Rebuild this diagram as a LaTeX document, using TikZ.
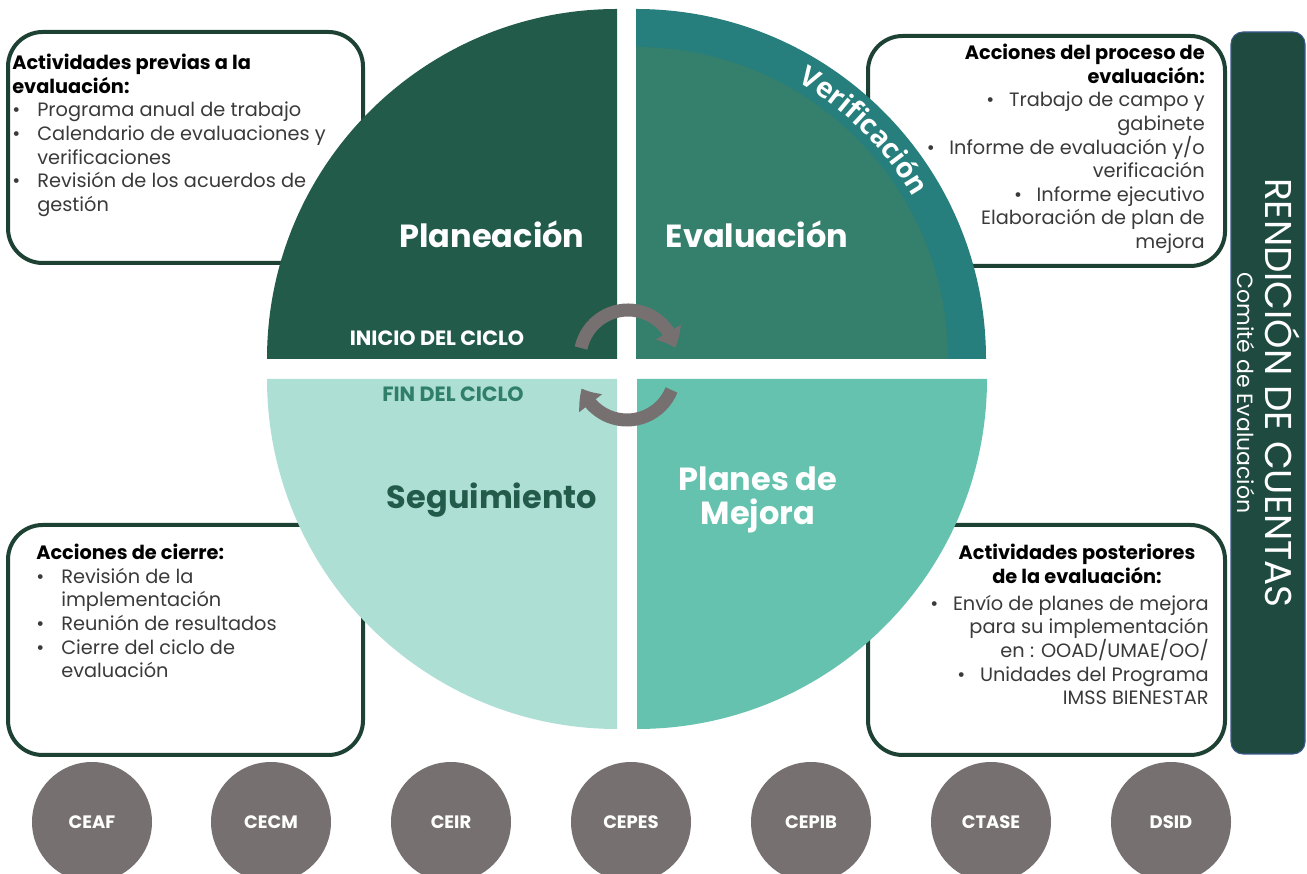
\documentclass[tikz,border=0pt]{standalone}
\usepackage{fontspec}
\setmainfont{Poppins}
\newfontfamily\osans{Open Sans}
\usetikzlibrary{arrows.meta,decorations.text,bending}
\definecolor{qTL}{HTML}{235B4B}
\definecolor{qTRband}{HTML}{267E7D}
\definecolor{qTR}{HTML}{34806C}
\definecolor{qBL}{HTML}{AEDFD5}
\definecolor{qBR}{HTML}{65C2AE}
\definecolor{grayc}{HTML}{767170}
\definecolor{boxline}{HTML}{1D4234}
\definecolor{barfill}{HTML}{1F4A3F}
\definecolor{barline}{HTML}{3A5A8C}
\definecolor{bodytext}{HTML}{3A3A3A}
\definecolor{finc}{HTML}{2F7F69}
\newcommand{\hb}[1]{\textcolor{black}{\bfseries #1}}
\newcommand{\bulL}{\makebox[18.75pt][l]{\textbullet}}
\newcommand{\indL}{\hspace*{18.75pt}}
\newcommand{\bulR}{\makebox[17pt][l]{\textbullet}}
\begin{document}
\begin{tikzpicture}[x=0.75pt,y=0.75pt,
  infobox/.style={draw=boxline,line width=3pt,fill=white,rounded corners=26pt},
  bodyfont/.style={font=\fontsize{14.5}{17.7}\selectfont,text=bodytext,inner sep=0pt},
  qtitle/.style={font=\fontsize{24}{25.5}\selectfont\bfseries,inner sep=0pt,align=center},
  ciclo/.style={font=\fontsize{15.5}{17}\selectfont\bfseries,inner sep=0pt},
  cycarrow/.style={draw=grayc,line width=9.75pt,-{Triangle[width=21pt,length=13pt,bend]}},
  gcirc/.style={circle,fill=grayc,minimum size=90pt,inner sep=0pt,text=white,font=\fontsize{13.5}{15}\selectfont\bfseries}]
\useasboundingbox (0,0) rectangle (1307,874);
\clip (0,0) rectangle (1307,874);

% side boxes
\path[infobox] (8,611) rectangle (363,842);
\path[infobox] (868,608) rectangle (1225,838);
\path[infobox] (8,119) rectangle (363,349);
\path[infobox] (868,119) rectangle (1225,349);

% accountability bar
\path[fill=barfill,draw=barline,line width=0.8pt,rounded corners=9pt] (1231,120) rectangle (1305,842);
\node[rotate=-90,inner sep=0pt,text=white,font=\fontsize{28}{30}\selectfont] (rend) at (1283,481) {RENDICIÓN DE CUENTAS};
\node[rotate=-90,inner sep=0pt,text=white,font=\fontsize{16.5}{18}\selectfont] (comite) at (1246,481) {Comité de Evaluación};

% quadrants
\fill[qTL] (617,515) -- (267,515) arc[start angle=180,end angle=90,radius=350] -- cycle;
\fill[qTRband] (636,515) -- (636,865) arc[start angle=90,end angle=0,radius=350] -- cycle;
\fill[qTR] (636,515) -- (636,827) arc[start angle=90,end angle=0,radius=312] -- cycle;
\fill[qBL] (617,495) -- (267,495) arc[start angle=180,end angle=270,radius=350] -- cycle;
\fill[qBR] (637,495) -- (987,495) arc[start angle=0,end angle=-90,radius=350] -- cycle;

% verification text on the band
\path[decorate,decoration={text along path,text align=center,
  text={|\osans\bfseries\fontsize{21}{22}\selectfont\color{white}|Verificación}}]
  (636,515) ++(65:321) arc[start angle=65,end angle=25,radius=321];

% quadrant titles
\node[qtitle,text=white] (plan) at (492,640) {Planeación};
\node[qtitle,text=white] (eval) at (757,640) {Evaluación};
\node[qtitle,text=qTL] (seg) at (492,374) {Seguimiento};
\node[qtitle,text=white] (mej) at (758,374) {Planes de\\Mejora};
\node[ciclo,text=white] (inicio) at (437,536) {INICIO DEL CICLO};
\node[ciclo,text=finc] (fin) at (453,480) {FIN DEL CICLO};

% cycle arrows
\draw[cycarrow] (628,516) ++(168:48) arc[start angle=168,end angle=12,radius=48];
\draw[cycarrow] (627,502) ++(-22:48) arc[start angle=-22,end angle=-160,radius=48];

% box texts
\node[bodyfont,anchor=north west,align=left] (tltext) at (12,820) {%
\hb{Actividades previas a la}\\
\hb{evaluación:}\\
\bulL Programa anual de trabajo\\
\bulL Calendario de evaluaciones y\\
\indL verificaciones\\
\bulL Revisión de los acuerdos de\\
\indL gestión};

\node[bodyfont,anchor=north east,align=right] (trtext) at (1205,830) {%
\hb{Acciones del proceso de}\\
\hb{evaluación:}\\
\bulR Trabajo de campo y\\
gabinete\\
\bulR Informe de evaluación y/o\\
verificación\\
\bulR Informe ejecutivo\\
Elaboración de plan de\\
mejora};

\node[bodyfont,anchor=north west,align=left] (bltext) at (36,330) {%
\hb{Acciones de cierre:}\\
\bulL Revisión de la\\
\indL implementación\\
\bulL Reunión de resultados\\
\bulL Cierre del ciclo de\\
\indL evaluación};

\node[bodyfont,anchor=north,align=center] (brhead) at (1077,330) {%
\hb{Actividades posteriores}\\
\hb{de la evaluación:}};
\node[bodyfont,anchor=north east,align=right] (brtext) at (1209,279) {%
\bulR Envío de planes de mejora\\
para su implementación\\
en : OOAD/UMAE/OO/\\
\bulR Unidades del Programa\\
IMSS BIENESTAR};

% committees
\node[gcirc] (ceaf) at (92,52) {CEAF};
\node[gcirc] (cecm) at (271,52) {CECM};
\node[gcirc] (ceir) at (451,52) {CEIR};
\node[gcirc] (cepes) at (631,52) {CEPES};
\node[gcirc] (cepib) at (811,52) {CEPIB};
\node[gcirc] (ctase) at (991,52) {CTASE};
\node[gcirc] (dsid) at (1171,52) {DSID};
\end{tikzpicture}
\end{document}
